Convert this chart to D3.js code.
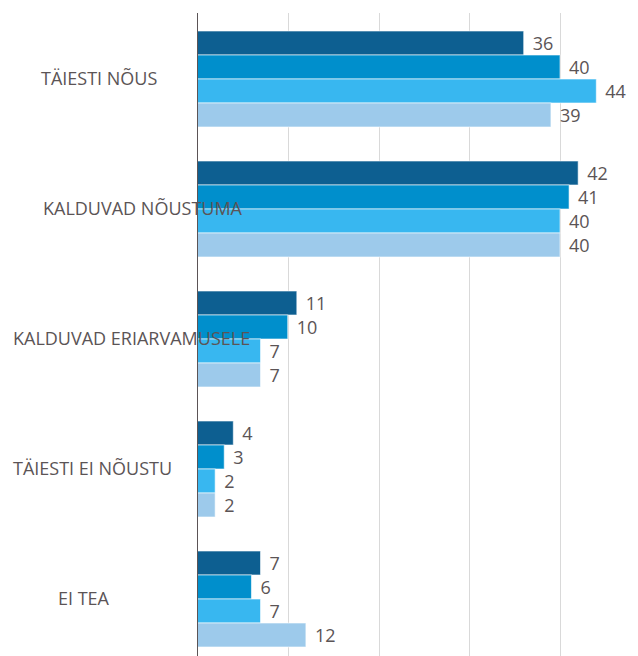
<!DOCTYPE html>
<html>
<head>
<meta charset="utf-8">
<script src="https://cdn.jsdelivr.net/npm/d3@7"></script>
<style>
  body { margin: 0; background: #fff; }
  text { font-family: "Open Sans", "Noto Sans", sans-serif; fill: #5b5456; }
</style>
</head>
<body>
<svg id="chart"></svg>
<script>
// Data
// ----
var categories = ["TÄIESTI NÕUS", "KALDUVAD NÕUSTUMA", "KALDUVAD ERIARVAMUSELE", "TÄIESTI EI NÕUSTU", "EI TEA"];
var series = ["s1", "s2", "s3", "s4"];
var s1 = [36, 42, 11, 4, 7];
var s2 = [40, 41, 10, 3, 6];
var s3 = [44, 40, 7, 2, 7];
var s4 = [39, 40, 7, 2, 12];
var ticks = [0, 10, 20, 30, 40, 50];

var values = [s1, s2, s3, s4];
var colors = ["#0d5f91", "#008fcc", "#38b7f0", "#9dcaeb"];

// Category labels sit at their own left edge, as in the original layout.
var labelLeft = [41, 43, 13, 13, 58];

var width = 638, height = 656;

var svg = d3.select("#chart")
  .attr("width", width)
  .attr("height", height);

var x = d3.scaleLinear()
  .domain([0, 50])
  .range([197, 197 + 453.75]);

var y = d3.scaleBand()
  .domain(categories)
  .range([31, 647])
  .paddingInner(34 / 130)
  .paddingOuter(0);

var ys = d3.scaleBand()
  .domain(series)
  .range([0, y.bandwidth()]);

// Gridlines
svg.append("g")
  .selectAll("line")
  .data(ticks.slice(1))
  .join("line")
  .attr("x1", d => Math.round(x(d)) + 0.5)
  .attr("x2", d => Math.round(x(d)) + 0.5)
  .attr("y1", 13)
  .attr("y2", height)
  .attr("stroke", "#d9d9d9")
  .attr("stroke-width", 1);

// Bars
var groups = svg.append("g")
  .selectAll("g")
  .data(categories)
  .join("g")
  .attr("transform", d => `translate(0,${y(d)})`);

groups.selectAll("rect")
  .data((d, i) => series.map((s, j) => ({ s, j, v: values[j][i] })))
  .join("rect")
  .attr("x", x(0))
  .attr("y", d => ys(d.s))
  .attr("width", d => x(d.v) - x(0))
  .attr("height", ys.bandwidth())
  .attr("fill", d => colors[d.j])
  .attr("stroke", "#ffffff")
  .attr("stroke-opacity", 0.6)
  .attr("stroke-width", 1);

groups.selectAll("text.value")
  .data((d, i) => series.map((s, j) => ({ s, j, v: values[j][i] })))
  .join("text")
  .attr("class", "value")
  .attr("x", d => x(d.v) + 9)
  .attr("y", d => ys(d.s) + ys.bandwidth() / 2 + 1)
  .attr("dy", "0.35em")
  .attr("font-size", 18)
  .text(d => d.v);

// Axis line
svg.append("line")
  .attr("x1", x(0) + 0.5)
  .attr("x2", x(0) + 0.5)
  .attr("y1", 13)
  .attr("y2", height)
  .attr("stroke", "#5b5456")
  .attr("stroke-width", 1);

// Category labels (drawn last, they overlap the bars)
svg.append("g")
  .selectAll("text")
  .data(categories)
  .join("text")
  .attr("x", (d, i) => labelLeft[i])
  .attr("y", d => y(d) + y.bandwidth() / 2)
  .attr("dy", "0.35em")
  .attr("font-size", 18)
  .text(d => d);
</script>
</body>
</html>
